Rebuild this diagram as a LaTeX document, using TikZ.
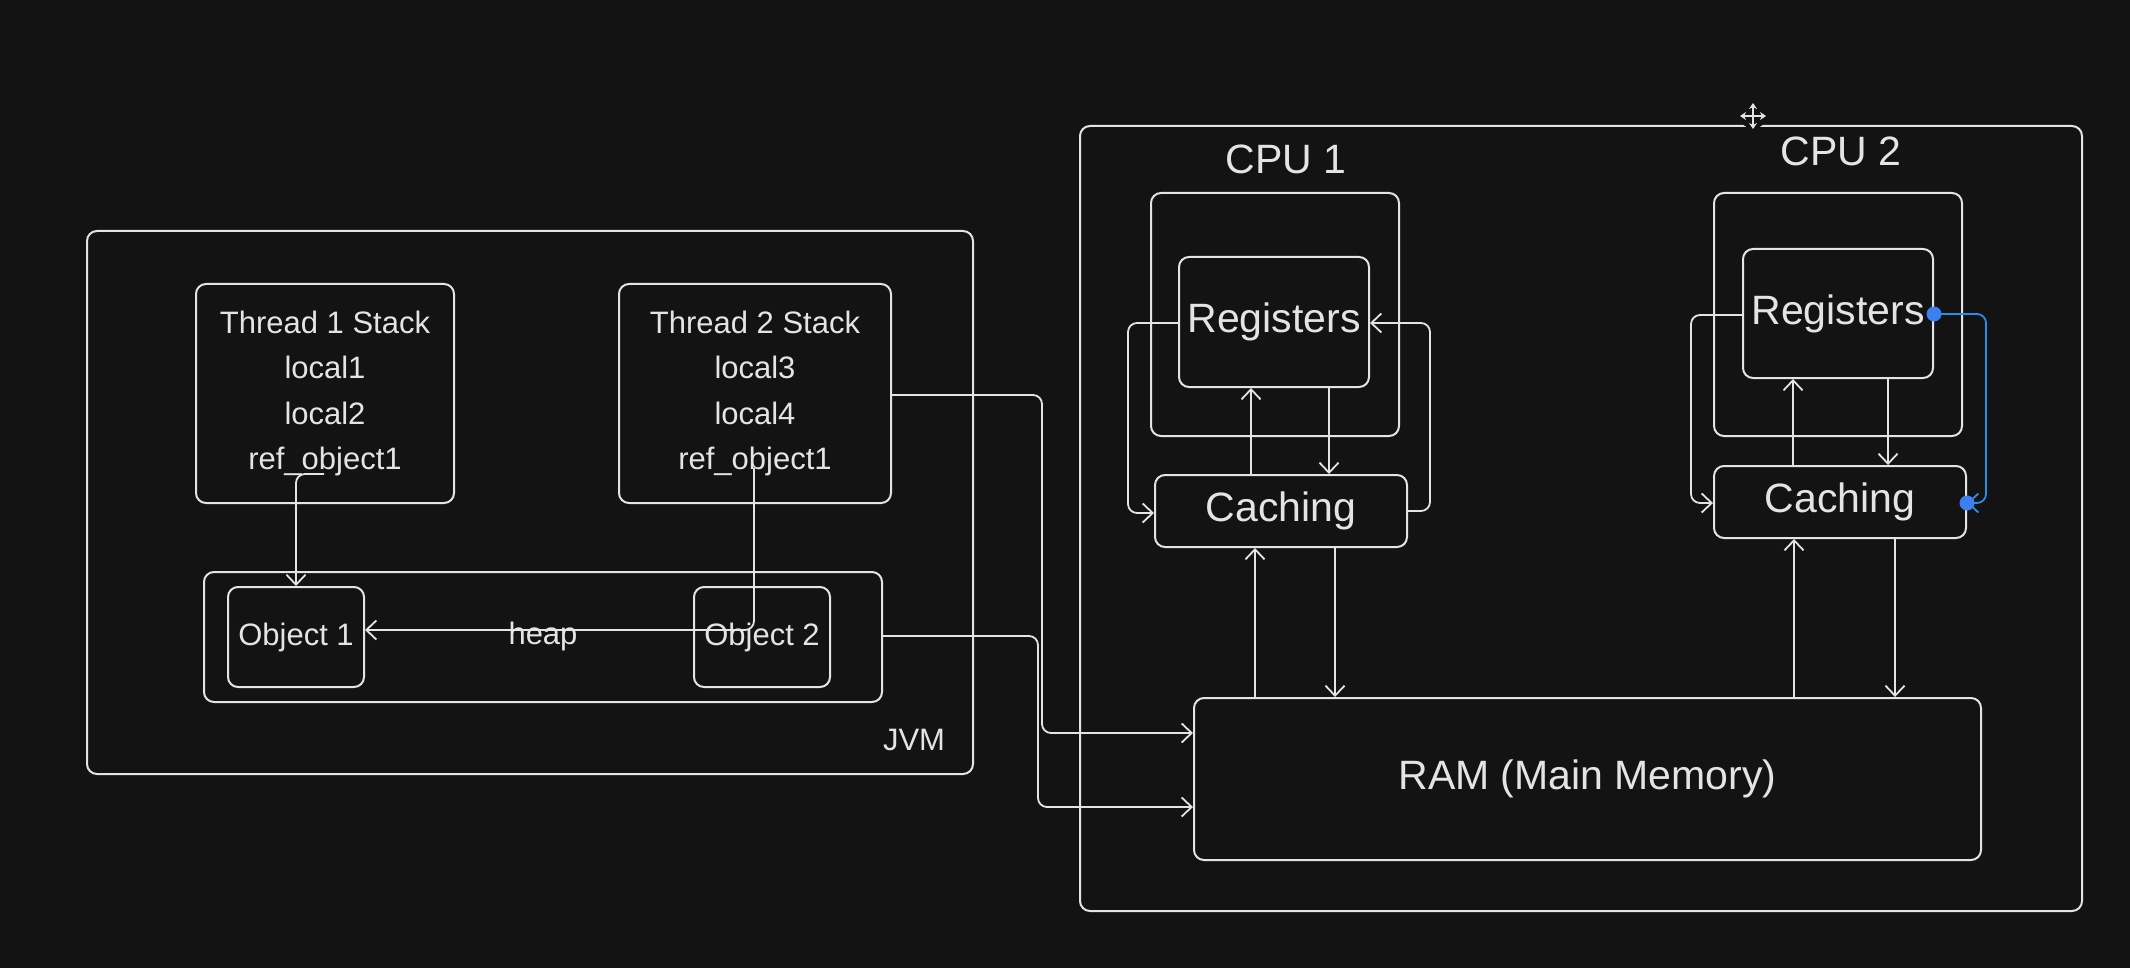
\documentclass[tikz,border=0pt]{standalone}
\usepackage{fontspec}
\setmainfont{Liberation Sans}
\usetikzlibrary{arrows.meta}
\definecolor{bg}{HTML}{131313}
\definecolor{fg}{HTML}{E4E4E4}
\definecolor{sel}{HTML}{2D8CE6}
\definecolor{dot}{HTML}{3B7FF0}
\tikzset{
  box/.style={draw=fg, line width=2pt, rounded corners=10pt, text=fg, align=center, inner sep=0pt},
  small/.style={font=\fontsize{31}{45.5}\selectfont},
  large/.style={font=\fontsize{41}{48}\selectfont},
  conn/.style={draw=fg, line width=1.8pt, rounded corners=9pt, -{Straight Barb[length=10pt,width=19pt,line width=1.8pt]}},
  label/.style={text=fg, inner sep=0pt},
}
\begin{document}
\begin{tikzpicture}[x=1pt,y=-1pt]
\fill[bg] (0,0) rectangle (2130,968);
\useasboundingbox (0,0) rectangle (2130,968);

% ---------- JVM ----------
\node[box, minimum width=886pt, minimum height=543pt] (jvm) at (530,502.5) {};
\node[label, small] (jvmlbl) at (914,740) {JVM};
\node[box, small, minimum width=258pt, minimum height=219pt] (t1) at (325,393.5) {Thread 1 Stack\\local1\\local2\\ref\_object1};
\node[box, small, minimum width=272pt, minimum height=219pt] (t2) at (755,393.5) {Thread 2 Stack\\local3\\local4\\ref\_object1};
\node[box, minimum width=678pt, minimum height=130pt] (heap) at (543,637) {};
\node[label, small] (heaplbl) at (543,636) {heap};
\node[box, small, minimum width=136pt, minimum height=100pt] (o1) at (296,637) {Object 1};
\node[box, small, minimum width=136pt, minimum height=100pt] (o2) at (762,637) {Object 2};

\coordinate (r1) at (324,474);
\coordinate (r2) at (754,468);
\draw[conn] (r1) -- (296,474) -- (o1.north);
\draw[conn] (r2) -- (754,630) -- (o1.east |- 0,630);

% ---------- Hardware ----------
\node[box, minimum width=1002pt, minimum height=785pt] (hw) at (1581,518.5) {};
\node[label, large] (cpu1) at (1286,159) {CPU 1};
\node[label, large] (cpu2) at (1841,151) {CPU 2};

\node[box, minimum width=248pt, minimum height=243pt] (c1) at (1275,314.5) {};
\node[box, large, minimum width=190pt, minimum height=130pt] (reg1) at (1274,322) {Registers};
\node[box, large, minimum width=252pt, minimum height=72pt] (cach1) at (1281,511) {Caching};

\node[box, minimum width=248pt, minimum height=243pt] (c2) at (1838,314.5) {};
\node[box, large, minimum width=190pt, minimum height=129pt] (reg2) at (1838,313.5) {Registers};
\node[box, large, minimum width=252pt, minimum height=72pt] (cach2) at (1840,502) {Caching};

\node[box, large, minimum width=787pt, minimum height=162pt] (ram) at (1587.5,779) {RAM (Main Memory)};

% CPU 1 links
\draw[conn] (reg1.west |- 0,323) -- (1128,323) -- (1128,513) -- (cach1.west |- 0,513);
\draw[conn] (cach1.east |- 0,511) -- (1430,511) -- (1430,323) -- (reg1.east |- 0,323);
\draw[conn] (cach1.north -| 1251,0) -- (reg1.south -| 1251,0);
\draw[conn] (reg1.south -| 1329,0) -- (cach1.north -| 1329,0);
\draw[conn] (ram.north -| 1255,0) -- (cach1.south -| 1255,0);
\draw[conn] (cach1.south -| 1335,0) -- (ram.north -| 1335,0);

% CPU 2 links
\draw[conn] (reg2.west |- 0,315) -- (1691,315) -- (1691,503) -- (cach2.west |- 0,503);
\draw[conn, draw=sel] (reg2.east |- 0,314) -- (1986,314) -- (1986,503) -- (cach2.east |- 0,503);
\fill[dot] (reg2.east |- 0,314) circle (7.5pt);
\fill[dot] (cach2.east |- 0,503) circle (7.5pt);
\draw[conn] (cach2.north -| 1793,0) -- (reg2.south -| 1793,0);
\draw[conn] (reg2.south -| 1888,0) -- (cach2.north -| 1888,0);
\draw[conn] (ram.north -| 1794,0) -- (cach2.south -| 1794,0);
\draw[conn] (cach2.south -| 1895,0) -- (ram.north -| 1895,0);

% JVM to RAM
\draw[conn] (t2.east |- 0,395) -- (1042,395) -- (1042,733) -- (ram.west |- 0,733);
\draw[conn] (heap.east |- 0,636) -- (1038,636) -- (1038,807) -- (ram.west |- 0,807);

% move cursor icon
\coordinate (mv) at (1753,116);
\fill[bg] (mv) circle (13pt);
\draw[fg, line width=1.3pt, {Stealth[length=6pt,width=8pt]}-{Stealth[length=6pt,width=8pt]}] ([xshift=-13pt]mv) -- ([xshift=13pt]mv);
\draw[fg, line width=1.3pt, {Stealth[length=6pt,width=8pt]}-{Stealth[length=6pt,width=8pt]}] ([yshift=-13pt]mv) -- ([yshift=13pt]mv);
\end{tikzpicture}
\end{document}
